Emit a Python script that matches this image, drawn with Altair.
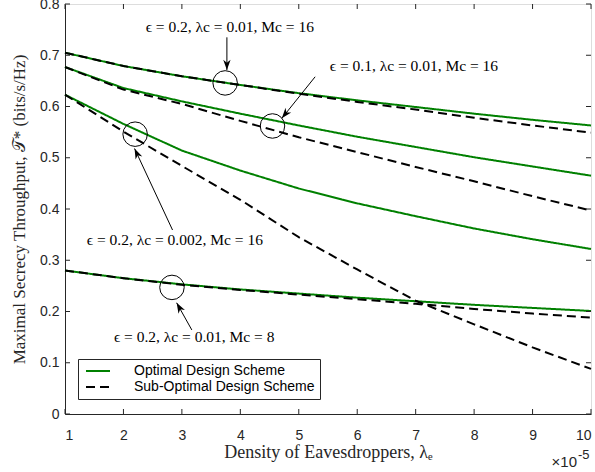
import math
import altair as alt
import pandas as pd

# ---------------- data ----------------
x_vals = [1, 2, 3, 4, 5, 6, 7, 8, 9, 10]

opt_A = [0.705, 0.679, 0.659, 0.642, 0.626, 0.612, 0.599, 0.586, 0.574, 0.563]
sub_A = [0.705, 0.679, 0.659, 0.642, 0.625, 0.609, 0.594, 0.578, 0.563, 0.549]

opt_B = [0.677, 0.636, 0.610, 0.586, 0.563, 0.541, 0.521, 0.501, 0.483, 0.465]
sub_B = [0.677, 0.633, 0.605, 0.572, 0.540, 0.511, 0.482, 0.454, 0.425, 0.397]

opt_C = [0.623, 0.566, 0.514, 0.475, 0.440, 0.411, 0.386, 0.362, 0.341, 0.322]
sub_C = [0.623, 0.551, 0.484, 0.418, 0.345, 0.282, 0.221, 0.175, 0.130, 0.088]

opt_D = [0.280, 0.265, 0.253, 0.243, 0.235, 0.227, 0.220, 0.213, 0.207, 0.201]
sub_D = [0.280, 0.265, 0.252, 0.242, 0.233, 0.224, 0.215, 0.205, 0.196, 0.188]

schemes = ["Optimal Design Scheme", "Sub-Optimal Design Scheme"]

# annotations
ann_text = ["ϵ = 0.2, λc = 0.01, Mc = 16",
            "ϵ = 0.1, λc = 0.01, Mc = 16",
            "ϵ = 0.2, λc = 0.002, Mc = 16",
            "ϵ = 0.2, λc = 0.01, Mc = 8"]
ann_tx = [3.82, 6.97, 2.88, 3.21]
ann_ty = [0.756, 0.679, 0.340, 0.150]

circ_x = [3.74, 4.55, 2.20, 2.83]
circ_y = [0.646, 0.562, 0.546, 0.247]

arr_x0 = [3.77, 5.28, 2.84, 3.17]
arr_y0 = [0.735, 0.658, 0.359, 0.164]
arr_x1 = [3.77, 4.71, 2.19, 2.91]
arr_y1 = [0.671, 0.577, 0.518, 0.217]

x_ticks = [1, 2, 3, 4, 5, 6, 7, 8, 9, 10]
y_ticks = [0, 0.1, 0.2, 0.3, 0.4, 0.5, 0.6, 0.7, 0.8]

# ---------------- layout ----------------
W, H = 526, 410
XMIN, XMAX, YMIN, YMAX = 1, 10, 0, 0.8
AX = "#262626"
GREEN = "#008000"

rows = []
for name, o, s in [("A", opt_A, sub_A), ("B", opt_B, sub_B),
                   ("C", opt_C, sub_C), ("D", opt_D, sub_D)]:
    for xv, ov, sv in zip(x_vals, o, s):
        rows.append({"x": xv, "T": ov, "scheme": schemes[0], "curve": name + "o"})
        rows.append({"x": xv, "T": sv, "scheme": schemes[1], "curve": name + "s"})
lines_df = pd.DataFrame(rows)

xs = alt.Scale(domain=[XMIN, XMAX], nice=False, zero=False)
ys = alt.Scale(domain=[YMIN, YMAX], nice=False, zero=False)

color = alt.Color("scheme:N",
                  scale=alt.Scale(domain=schemes, range=[GREEN, "black"]),
                  legend=alt.Legend(title=None, orient="none", legendX=13, legendY=355,
                                    symbolType="M-1,0H5", symbolSize=64,
                                    symbolStrokeWidth=2, labelOffset=37,
                                    labelFont="Liberation Sans", labelFontSize=14,
                                    labelColor="black", labelLimit=400,
                                    strokeColor=AX, fillColor="white",
                                    padding=5, rowPadding=2, offset=0))
dash = alt.StrokeDash("scheme:N",
                      scale=alt.Scale(domain=schemes, range=[[1, 0], [9, 5]]),
                      legend=None)

x_enc = alt.X("x:Q", scale=xs,
              axis=alt.Axis(values=x_ticks, ticks=False, labelPadding=14, grid=False,
                            title="Density of Eavesdroppers, λₑ", titleFont="Liberation Serif",
                            titleFontSize=18, titleFontWeight="normal", titleColor=AX,
                            titlePadding=1, labelFont="Liberation Sans", labelFontSize=14,
                            labelColor=AX, domainColor=AX, format="d"))
y_enc = alt.Y("T:Q", scale=ys,
              axis=alt.Axis(values=y_ticks, ticks=False, labelPadding=6, grid=False,
                            title="Maximal Secrecy Throughput, 𝒯* (bits/s/Hz)",
                            titleFont="Liberation Serif", titleFontSize=17,
                            titleFontWeight="normal", titleColor=AX, titlePadding=11,
                            labelFont="Liberation Sans", labelFontSize=14,
                            labelColor=AX, domainColor=AX, format=".1~f"))

base = alt.Chart(lines_df)
opt_layer = base.transform_filter(alt.datum.scheme == schemes[0]).mark_line(strokeWidth=2).encode(
    x=x_enc, y=y_enc, color=color, strokeDash=dash, detail="curve:N")
sub_layer = base.transform_filter(alt.datum.scheme == schemes[1]).mark_line(strokeWidth=2).encode(
    x="x:Q", y="T:Q", color=color, strokeDash=dash, detail="curve:N")

# annotations
ann_df = pd.DataFrame({"tx": ann_tx, "ty": ann_ty, "label": ann_text})
text_layer = alt.Chart(ann_df).mark_text(font="Liberation Serif", fontSize=15.5,
                                         color="black", align="center", baseline="middle").encode(
    x=alt.X("tx:Q", scale=xs), y=alt.Y("ty:Q", scale=ys), text="label:N")

circ_df = pd.DataFrame({"cx": circ_x, "cy": circ_y})
circ_layer = alt.Chart(circ_df).mark_point(shape="circle", size=600, filled=False,
                                           color="black", strokeWidth=1, opacity=1).encode(
    x=alt.X("cx:Q", scale=xs), y=alt.Y("cy:Q", scale=ys))


def px(xv):
    return (xv - XMIN) / (XMAX - XMIN) * W


def py(yv):
    return H - (yv - YMIN) / (YMAX - YMIN) * H


angles = []
for a, b, c, d in zip(arr_x0, arr_y0, arr_x1, arr_y1):
    dx = px(c) - px(a)
    dy = py(d) - py(b)
    angles.append(math.degrees(math.atan2(dx, -dy)) % 360)

arr_df = pd.DataFrame({"x0": arr_x0, "y0": arr_y0, "x1": arr_x1, "y1": arr_y1, "ang": angles})
arrow_line = alt.Chart(arr_df).mark_rule(color="black", strokeWidth=1).encode(
    x=alt.X("x0:Q", scale=xs), y=alt.Y("y0:Q", scale=ys), x2="x1:Q", y2="y1:Q")
arrow_head = alt.Chart(arr_df).mark_point(shape="M0,0L0.6,1.7L0,1.2L-0.6,1.7Z", size=150,
                                          filled=True, color="black", opacity=1).encode(
    x=alt.X("x1:Q", scale=xs), y=alt.Y("y1:Q", scale=ys), angle=alt.Angle("ang:Q", scale=None))

# inward ticks on all four sides
xt_df = pd.DataFrame({"xt": x_ticks})
yt_df = pd.DataFrame({"yt": y_ticks})
tick_b = alt.Chart(xt_df).mark_rule(color=AX, strokeWidth=1).encode(
    x=alt.X("xt:Q", scale=xs), y=alt.value(H), y2=alt.value(H - 5))
tick_t = alt.Chart(xt_df).mark_rule(color=AX, strokeWidth=1).encode(
    x=alt.X("xt:Q", scale=xs), y=alt.value(0), y2=alt.value(5))
tick_l = alt.Chart(yt_df).mark_rule(color=AX, strokeWidth=1).encode(
    y=alt.Y("yt:Q", scale=ys), x=alt.value(0), x2=alt.value(5))
tick_r = alt.Chart(yt_df).mark_rule(color=AX, strokeWidth=1).encode(
    y=alt.Y("yt:Q", scale=ys), x=alt.value(W), x2=alt.value(W - 5))

exp_base = alt.Chart(pd.DataFrame({"t": ["×10"]})).mark_text(
    font="Liberation Sans", fontSize=15, color=AX, align="right", baseline="middle").encode(
    x=alt.value(W - 14), y=alt.value(H + 48), text="t:N")
exp_sup = alt.Chart(pd.DataFrame({"t": ["-5"]})).mark_text(
    font="Liberation Sans", fontSize=13, color=AX, align="left", baseline="middle").encode(
    x=alt.value(W - 13), y=alt.value(H + 41), text="t:N")

chart = alt.layer(opt_layer, sub_layer, tick_b, tick_t, tick_l, tick_r,
                  circ_layer, arrow_line, arrow_head, text_layer, exp_base, exp_sup).properties(
    width=W, height=H,
    autosize=alt.AutoSizeParams(type="none"),
    padding={"left": 65, "top": 4, "right": 4, "bottom": 58},
).configure_view(stroke=AX, strokeWidth=1).configure(background="white")

chart.save("out.html", embed_options={"renderer": "svg", "actions": False})
